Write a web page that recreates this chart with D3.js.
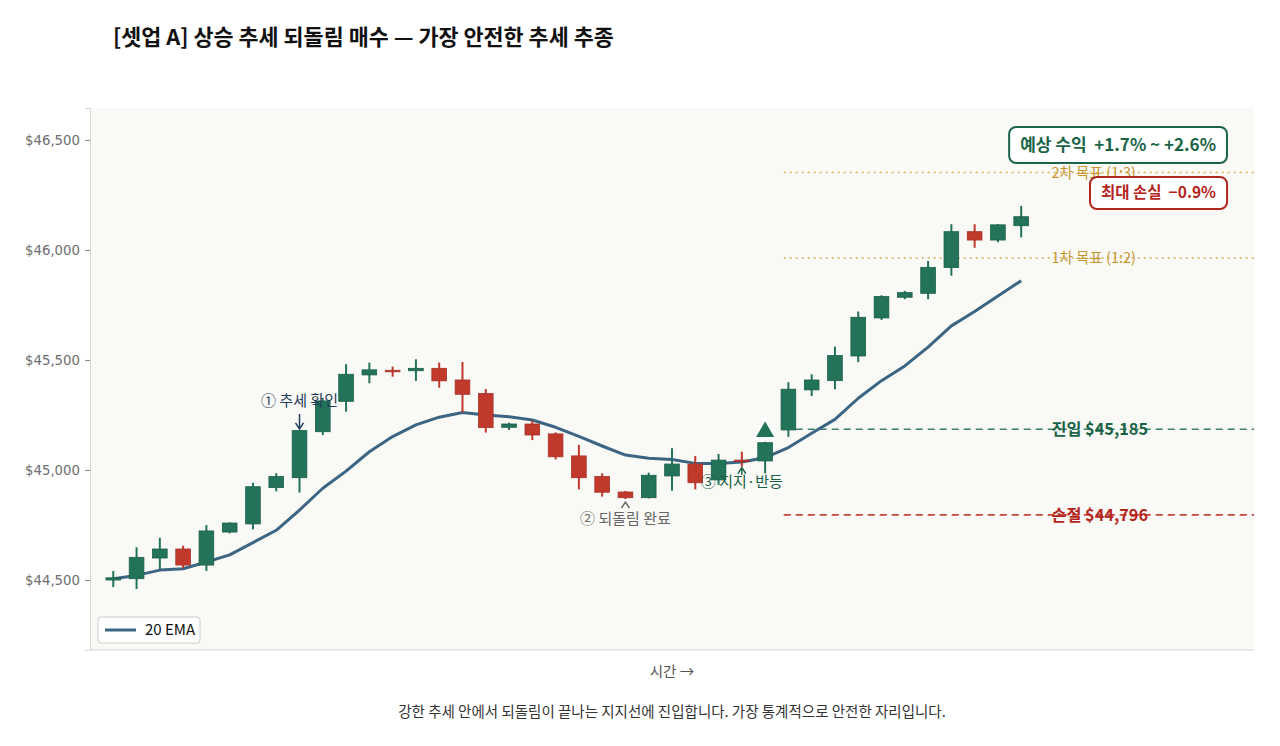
<!DOCTYPE html>
<html>
<head>
<meta charset="utf-8">
<title>셋업 A</title>
<style>
  body { margin: 0; background: #fff; }
  text { font-family: "Noto Sans CJK KR", "Noto Sans", sans-serif; white-space: pre; }
  .yaxis text { font-family: "DejaVu Sans", sans-serif; }
</style>
</head>
<body>
<svg width="1280" height="746"></svg>
<script src="https://cdn.jsdelivr.net/npm/d3@7"></script>
<script>
// --- data ---
var opens  = [44500,44506,44600,44641,44568,44718,44755,44920,44965,45174,
              45312,45432,45453,45451,45462,45409,45348,45194,45209,45164,
              45064,44970,44900,44874,44973,45027,44955,45045,45041,45182,
              45364,45406,45518,45691,45785,45803,45920,46083,46045,46110];
var highs  = [44541,44649,44692,44656,44750,44762,44942,44985,45182,45322,
              45481,45488,45470,45503,45488,45491,45368,45215,45224,45171,
              45114,44985,44905,44988,45099,45064,45073,45083,45128,45399,
              45435,45561,45720,45794,45814,45950,46117,46117,46117,46200];
var lows   = [44468,44459,44545,44553,44541,44712,44730,44903,44897,45159,
              45265,45394,45424,45405,45374,45262,45170,45182,45136,45048,
              44912,44879,44868,44871,44906,44912,44932,45015,44985,45151,
              45336,45367,45490,45682,45776,45776,45883,46010,46035,46057];
var closes = [44510,44603,44641,44568,44723,44759,44924,44970,45179,45314,
              45435,45455,45447,45462,45405,45344,45193,45209,45159,45060,
              44965,44899,44874,44976,45027,44942,45045,45041,45124,45367,
              45409,45520,45694,45788,45806,45921,46083,46045,46114,46151];
var ema20  = [44506,44521,44545,44551,44582,44614,44670,44726,44818,44917,
              44995,45083,45152,45205,45240,45261,45250,45242,45227,45194,
              45153,45109,45068,45053,45048,45030,45030,45036,45056,45102,
              45167,45230,45326,45406,45473,45558,45655,45720,45791,45860];
var yTicks = [44500, 45000, 45500, 46000, 46500];

var entryPrice = 45185, stopPrice = 44796;
var target1 = 45963, target2 = 46352;
var entryIdx = 28;

var svg = d3.select("svg"),
    margin = {top: 108, right: 26, bottom: 96, left: 90},
    width = 1280 - margin.left - margin.right,
    height = 746 - margin.top - margin.bottom;

var x = d3.scaleLinear().domain([-1, 49]).range([0, width]);
var y = d3.scaleLinear().domain([44182, 46645]).range([height, 0]);

var green = "#23725a", red = "#c0392b", emaColor = "#3b6583";

var candles = d3.range(opens.length).map(function(i) {
    return {i: i, o: opens[i], h: highs[i], l: lows[i], c: closes[i]};
});

// title
svg.append("text")
    .attr("x", 113).attr("y", 45)
    .attr("font-size", 21.8).attr("font-weight", "bold").attr("fill", "#111")
    .text("[셋업 A] 상승 추세 되돌림 매수 — 가장 안전한 추세 추종");

var g = svg.append("g").attr("transform", "translate(" + margin.left + "," + margin.top + ")");

g.append("rect").attr("width", width).attr("height", height).attr("fill", "#f9f9f5");

// y axis
var yAxis = g.append("g").attr("class", "yaxis")
    .call(d3.axisLeft(y).tickValues(yTicks).tickSize(5).tickPadding(5)
        .tickFormat(function(d) { return "$" + d3.format(",")(d); }));
yAxis.select(".domain").attr("stroke", "#d6d6d6");
yAxis.selectAll(".tick line").attr("stroke", "#888");
yAxis.selectAll("text").attr("fill", "#6e6e6e").attr("font-size", 13.3);

g.append("line").attr("x1", 0).attr("x2", width).attr("y1", height).attr("y2", height)
    .attr("stroke", "#d6d6d6");

// level lines
var levels = [
    {v: target2, label: "2차 목표 (1:3)", color: "#d9b062", tcolor: "#c4962e", dash: "2,4", w: 1.5, bold: false, fs: 14.5},
    {v: target1, label: "1차 목표 (1:2)", color: "#d9b062", tcolor: "#c4962e", dash: "2,4", w: 1.5, bold: false, fs: 14.5},
    {v: entryPrice, label: "진입 $" + d3.format(",")(entryPrice), color: "#3c8068", tcolor: "#1b6448", dash: "7,5", w: 1.6, bold: true, fs: 16.3},
    {v: stopPrice, label: "손절 $" + d3.format(",")(stopPrice), color: "#c8453a", tcolor: "#b3261e", dash: "7,5", w: 1.6, bold: true, fs: 16.3}
];
levels.forEach(function(d) {
    g.append("line")
        .attr("x1", x(entryIdx + 0.8)).attr("x2", width)
        .attr("y1", y(d.v)).attr("y2", y(d.v))
        .attr("stroke", d.color).attr("stroke-width", d.w).attr("stroke-dasharray", d.dash);
});

// EMA
var line = d3.line().x(function(d, i) { return x(i); }).y(function(d) { return y(d); });
g.append("path").datum(ema20)
    .attr("fill", "none").attr("stroke", emaColor).attr("stroke-width", 3)
    .attr("stroke-linejoin", "round").attr("d", line);

// candles
var bw = (x(1) - x(0)) * 0.63;
var cg = g.append("g").selectAll("g").data(candles).enter().append("g");
cg.append("line")
    .attr("x1", function(d) { return x(d.i); }).attr("x2", function(d) { return x(d.i); })
    .attr("y1", function(d) { return y(d.h); }).attr("y2", function(d) { return y(d.l); })
    .attr("stroke", function(d) { return d.c >= d.o ? green : red; }).attr("stroke-width", 2);
cg.append("rect")
    .attr("x", function(d) { return x(d.i) - bw / 2; })
    .attr("width", bw)
    .attr("y", function(d) { return y(Math.max(d.o, d.c)); })
    .attr("height", function(d) { return Math.max(1.5, Math.abs(y(d.o) - y(d.c))); })
    .attr("fill", function(d) { return d.c >= d.o ? green : red; })
    .attr("stroke", function(d) { return d.c >= d.o ? "#1c6049" : "#a8302a"; })
    .attr("stroke-width", 0.8);

// level labels
levels.forEach(function(d) {
    g.append("text")
        .attr("x", x(40.3)).attr("y", y(d.v)).attr("dy", "0.35em")
        .attr("font-size", d.fs).attr("font-weight", d.bold ? "bold" : "normal")
        .attr("fill", d.tcolor).text(d.label);
});

// entry marker
var tx = x(entryIdx), ty = y(highs[entryIdx]) - 10;
g.append("path")
    .attr("d", d3.symbol().type(d3.symbolTriangle).size(220)())
    .attr("transform", "translate(" + tx + "," + ty + ")")
    .attr("fill", green).attr("stroke", "#fff").attr("stroke-width", 2.5);

// annotations
function arrowHead(px, py, dir, color) {
    // dir = 1 points down, -1 points up
    g.append("path")
        .attr("d", "M" + (px - 4) + "," + (py - dir * 6) + "L" + px + "," + py + "L" + (px + 4) + "," + (py - dir * 6))
        .attr("fill", "none").attr("stroke", color).attr("stroke-width", 1.5);
}
var annColor1 = "#1f3d5c";
g.append("text").attr("x", x(8)).attr("y", y(highs[8]) - 24)
    .attr("text-anchor", "middle").attr("font-size", 15).attr("fill", annColor1)
    .text("① 추세 확인");
g.append("line").attr("x1", x(8)).attr("x2", x(8))
    .attr("y1", y(highs[8]) - 16).attr("y2", y(highs[8]) - 1)
    .attr("stroke", annColor1).attr("stroke-width", 1.5);
arrowHead(x(8), y(highs[8]) - 1, 1, annColor1);

var annColor2 = "#666";
g.append("text").attr("x", x(22)).attr("y", y(lows[22]) + 25)
    .attr("text-anchor", "middle").attr("font-size", 15).attr("fill", annColor2)
    .text("② 되돌림 완료");
arrowHead(x(22), y(lows[22]) + 3, -1, annColor2);

var annColor3 = "#1b5f45";
g.append("text").attr("x", x(27)).attr("y", y(lows[27]) + 20)
    .attr("text-anchor", "middle").attr("font-size", 15).attr("fill", annColor3)
    .text("③ 지지·반등");
g.append("line").attr("x1", x(27)).attr("x2", x(27))
    .attr("y1", y(lows[27]) + 1).attr("y2", y(lows[27]) + 8)
    .attr("stroke", annColor3).attr("stroke-width", 1.5);
arrowHead(x(27), y(lows[27]) + 1, -1, annColor3);

// info boxes (top right)
function infoBox(txt, right, top, color, fs, bh) {
    var t = g.append("text").attr("font-size", fs).attr("font-weight", "bold")
        .attr("fill", color).attr("text-anchor", "end")
        .attr("x", right - 11).attr("y", top + bh / 2).attr("dy", "0.35em").text(txt);
    var bb = t.node().getBBox();
    g.insert("rect", function() { return t.node(); })
        .attr("x", bb.x - 11).attr("y", top).attr("width", bb.width + 22).attr("height", bh)
        .attr("rx", 7).attr("fill", "#fff").attr("stroke", color).attr("stroke-width", 2);
}
infoBox("예상 수익  +1.7% ~ +2.6%", width - 27, 19, "#1b6448", 17, 36);
infoBox("최대 손실  −0.9%", width - 27, 69, "#b3261e", 15.5, 32);

// legend
var lg = g.append("g").attr("transform", "translate(8," + (height - 33) + ")");
lg.append("rect").attr("width", 102).attr("height", 26).attr("rx", 3)
    .attr("fill", "#fff").attr("stroke", "#ccc");
lg.append("line").attr("x1", 7).attr("x2", 38).attr("y1", 13).attr("y2", 13)
    .attr("stroke", emaColor).attr("stroke-width", 3);
lg.append("text").attr("x", 47).attr("y", 13).attr("dy", "0.35em")
    .attr("font-size", 15).attr("fill", "#111").text("20 EMA");

// x label and caption
svg.append("text").attr("x", margin.left + width / 2).attr("y", 677)
    .attr("text-anchor", "middle").attr("font-size", 14.5).attr("fill", "#555")
    .text("시간 →");
svg.append("text").attr("x", margin.left + width / 2).attr("y", 717)
    .attr("text-anchor", "middle").attr("font-size", 14.5).attr("fill", "#333")
    .text("강한 추세 안에서 되돌림이 끝나는 지지선에 진입합니다. 가장 통계적으로 안전한 자리입니다.");
</script>
</body>
</html>
